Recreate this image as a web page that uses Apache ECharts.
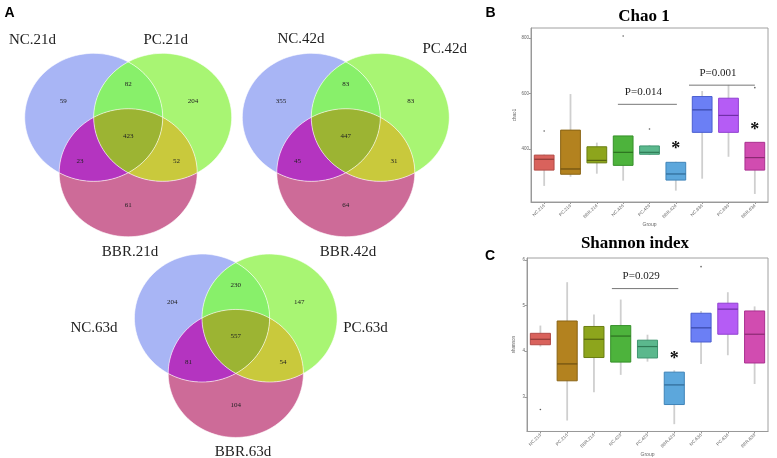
<!DOCTYPE html>
<html><head><meta charset="utf-8">
<script src="https://cdn.jsdelivr.net/npm/echarts@6/dist/echarts.min.js"></script>
<style>html,body{margin:0;padding:0;background:#fff}#c{width:777px;height:458px}</style>
</head><body><div id="c"></div><script>
// ---------------- DATA ----------------
const vennRegionNames = ['NC only','NC & PC','PC only','NC & PC & BBR','NC & BBR','PC & BBR','BBR only'];
const venn21Sets = ['NC.21d','PC.21d','BBR.21d'];
const venn21Counts = [59, 82, 204, 423, 23, 52, 61];
const venn42Sets = ['NC.42d','PC.42d','BBR.42d'];
const venn42Counts = [355, 83, 83, 447, 45, 31, 64];
const venn63Sets = ['NC.63d','PC.63d','BBR.63d'];
const venn63Counts = [204, 230, 147, 557, 81, 54, 104];

const groups = ['NC.21d','PC.21d','BBR.21d','NC.42d','PC.42d','BBR.42d','NC.63d','PC.63d','BBR.63d'];
// [min, Q1, median, Q3, max]
const chaoBoxes = [
  [267, 324, 363, 378, 380],
  [300, 309, 328, 468, 598],
  [311, 350, 359, 408, 423],
  [286, 341, 388, 447, 447],
  [378, 381, 388, 411, 414],
  [250, 288, 310, 352, 354],
  [293, 460, 541, 589, 609],
  [372, 460, 521, 583, 631],
  [238, 324, 369, 424, 424]
];
const chaoOutliers = [[0, 465], [3, 807], [4, 472], [8, 621]];
const chaoTicks = [400, 600, 800];
const chaoStars = [[5, 412], [8, 483]];
// [from position, to position (category units), level, label]
const chaoSig = [[2.8, 5.04, 561, 'P=0.014'], [5.5, 8.0, 630, 'P=0.001']];

const shannonBoxes = [
  [4.10, 4.14, 4.26, 4.39, 4.56],
  [2.48, 3.35, 3.72, 4.66, 5.51],
  [3.10, 3.86, 4.26, 4.54, 4.80],
  [3.48, 3.76, 4.33, 4.56, 5.13],
  [3.77, 3.85, 4.10, 4.24, 4.36],
  [2.40, 2.83, 3.26, 3.54, 3.58],
  [3.72, 4.20, 4.51, 4.83, 4.88],
  [3.91, 4.37, 4.92, 5.05, 5.29],
  [3.28, 3.74, 4.37, 4.88, 4.98]
];
const shannonOutliers = [[0, 2.72], [6, 5.85]];
const shannonTicks = [3, 4, 5, 6];
const shannonStars = [[5, 3.91]];
const shannonSig = [[2.67, 5.15, 5.37, 'P=0.029']];

// ---------------- STYLE / GEOMETRY ----------------
const regionColors = ['#a8b5f5','#88f06a','#a8f573','#9cb433','#b434c0','#c9c93c','#cd6b98'];
const boxFill = ['#d9625c','#b3821f','#8da51c','#4db33c','#5bb88d','#5ca7dc','#6b7ff5','#b55cf5','#d14cb0'];
const boxLine = ['#b24a46','#8a6414','#6a7e12','#36902a','#3f9670','#3f84b8','#4a5ed0','#9040d0','#aa3090'];
const boxMed  = ['#8e3a36','#6e5010','#566410','#2c7020','#2f7a55','#2f6a96','#3a48a8','#7030a8','#8a2a72'];

const S = Math.sqrt(3) / 6;
const CEN = [[-0.5, S], [0.5, S], [0, -2 * S]];
const REGION_ARCS = [
  [[0, 60, 240], [2, 180, 120], [1, 180, 120]],
  [[1, 120, 180], [2, 120, 60], [0, 0, 60]],
  [[1, -60, 120], [0, 60, 0], [2, 60, 0]],
  [[2, 120, 60], [0, 0, -60], [1, 240, 180]],
  [[0, 240, 300], [1, 240, 180], [2, 120, 180]],
  [[1, 240, 300], [2, 0, 60], [0, 0, -60]],
  [[2, 180, 360], [1, 300, 240], [0, 300, 240]]
];
const LABEL_POS = [[-0.94, 0.54], [0, 0.80], [0.94, 0.54], [0, 0], [-0.70, -0.40], [0.70, -0.40], [0, -1.08]];

function arcPts(ci, a0, a1, n) {
  const pts = [];
  for (let k = 0; k <= n; k++) {
    const a = (a0 + (a1 - a0) * k / n) * Math.PI / 180;
    pts.push([CEN[ci][0] + Math.cos(a), CEN[ci][1] + Math.sin(a)]);
  }
  return pts;
}

function vennRegionRender(params, api) {
  const r = api.value(0);
  const cnt = api.value(1);
  let pts = [];
  REGION_ARCS[r].forEach(a => { pts = pts.concat(arcPts(a[0], a[1], a[2], 40)); });
  const px = pts.map(p => api.coord(p));
  const lp = api.coord(LABEL_POS[r]);
  return {
    type: 'group',
    children: [
      { type: 'polygon', shape: { points: px }, style: { fill: regionColors[r], stroke: null } },
      { type: 'text', style: { text: String(cnt), x: lp[0], y: lp[1], font: '7px "Liberation Serif"', fill: '#222',
        align: 'center', verticalAlign: 'middle', textAlign: 'center', textVerticalAlign: 'middle' } }
    ]
  };
}
function vennCircleRender(params, api) {
  const ci = api.value(0);
  const px = arcPts(ci, 0, 360, 120).map(p => api.coord(p));
  return { type: 'polygon', shape: { points: px }, style: { fill: 'none', stroke: 'rgba(255,255,255,0.75)', lineWidth: 0.8 } };
}

function boxRender(params, api) {
  const i = api.value(0);
  const band = api.size([1, 0])[0];
  const w = band * 0.75;
  const x = api.coord([i, api.value(1)])[0];
  const y = k => api.coord([i, api.value(k)])[1];
  const yMin = y(1), yQ1 = y(2), yMed = y(3), yQ3 = y(4), yMax = y(5);
  return {
    type: 'group',
    children: [
      { type: 'line', shape: { x1: x, y1: yMin, x2: x, y2: yMax }, style: { stroke: '#cfcfcf', lineWidth: 1.8 } },
      { type: 'rect', shape: { x: x - w / 2, y: yQ3, width: w, height: yQ1 - yQ3 },
        style: { fill: boxFill[i], stroke: boxLine[i], lineWidth: 1 } },
      { type: 'line', shape: { x1: x - w / 2, y1: yMed, x2: x + w / 2, y2: yMed }, style: { stroke: boxMed[i], lineWidth: 1.2 } }
    ]
  };
}

function sigRender(params, api) {
  const band = api.size([1, 0])[0];
  const x0 = api.coord([0, api.value(2)])[0];
  const yv = api.coord([0, api.value(2)])[1];
  const xa = x0 + api.value(0) * band, xb = x0 + api.value(1) * band;
  return {
    type: 'group',
    children: [
      { type: 'line', shape: { x1: xa, y1: yv, x2: xb, y2: yv }, style: { stroke: '#777', lineWidth: 1 } },
      { type: 'text', style: { text: params.context.label || api.value(3), x: (xa + xb) / 2 - 4, y: yv - 12,
        font: '11px "Liberation Serif"', fill: '#222', align: 'center', verticalAlign: 'middle', textAlign: 'center', textVerticalAlign: 'middle' } }
    ]
  };
}

function starRender(params, api) {
  const p = api.coord([api.value(0), api.value(1)]);
  return { type: 'text', style: { text: '*', x: p[0], y: p[1] + 4, font: 'bold 18px "Liberation Serif"', fill: '#111',
    align: 'center', verticalAlign: 'middle', textAlign: 'center', textVerticalAlign: 'middle' } };
}

// ---------------- CHART ----------------
const chart = echarts.init(document.getElementById('c'), null, { renderer: 'canvas' });

const vennGrids = [
  { left: 17.8, top: 33.4, width: 220.8, height: 204.8 },
  { left: 235.4, top: 33.4, width: 220.8, height: 204.8 },
  { left: 127.65, top: 234.1, width: 216.3, height: 204.8 }
];
const vennCounts = [venn21Counts, venn42Counts, venn63Counts];

const grids = vennGrids.map(g => Object.assign({ show: false }, g));
grids.push({ left: 531, top: 28, width: 237, height: 174, show: true, borderColor: '#a0a0a0', borderWidth: 1, backgroundColor: 'transparent' });
grids.push({ left: 527, top: 258, width: 241, height: 174, show: true, borderColor: '#a0a0a0', borderWidth: 1, backgroundColor: 'transparent' });

const xAxes = [], yAxes = [];
for (let g = 0; g < 3; g++) {
  xAxes.push({ gridIndex: g, type: 'value', min: -1.6, max: 1.6, show: false });
  yAxes.push({ gridIndex: g, type: 'value', min: -1.6, max: 1.6, show: false });
}
function catAxis(g, nameGap) {
  return {
    gridIndex: g, type: 'category', data: groups,
    axisLine: { lineStyle: { color: '#999' } },
    axisTick: { show: true, length: 2, alignWithLabel: true, lineStyle: { color: '#999' } },
    axisLabel: { rotate: 45, fontSize: 4.5, color: '#666', margin: 3, interval: 0 },
    name: 'Group', nameLocation: 'middle', nameGap: nameGap, nameTextStyle: { fontSize: 5, color: '#666' }
  };
}
function valAxis(g, min, max, ticks, name) {
  return {
    gridIndex: g, type: 'value', min: min, max: max,
    splitLine: { show: false },
    axisLine: { show: true, lineStyle: { color: '#999' } },
    axisTick: { show: true, length: 2, customValues: ticks, lineStyle: { color: '#999' } },
    axisLabel: { customValues: ticks, fontSize: 4.5, color: '#666', margin: 2 },
    name: name, nameLocation: 'middle', nameRotate: 90, nameGap: 11, nameTextStyle: { fontSize: 4.5, color: '#666' }
  };
}
xAxes.push(catAxis(3, 17)); yAxes.push(valAxis(3, 209, 836, chaoTicks, 'chao1'));
xAxes.push(catAxis(4, 17)); yAxes.push(valAxis(4, 2.24, 6.04, shannonTicks, 'shannon'));

const series = [];
for (let g = 0; g < 3; g++) {
  series.push({
    type: 'custom', xAxisIndex: g, yAxisIndex: g, renderItem: vennRegionRender,
    data: vennCounts[g].map((v, i) => ({ name: vennRegionNames[i], value: [i, v] })),
    encode: { x: -1, y: -1 }, silent: true
  });
  series.push({
    type: 'custom', xAxisIndex: g, yAxisIndex: g, renderItem: vennCircleRender,
    data: [[0], [1], [2]], encode: { x: -1, y: -1 }, silent: true, z: 3
  });
}
function boxSeries(ax, boxes, outliers, stars, sig) {
  series.push({
    type: 'custom', xAxisIndex: ax, yAxisIndex: ax, renderItem: boxRender,
    data: boxes.map((b, i) => [i].concat(b)), encode: { x: 0, y: [1, 2, 3, 4, 5] }, silent: true
  });
  series.push({
    type: 'scatter', xAxisIndex: ax, yAxisIndex: ax, data: outliers, symbolSize: 1.6,
    itemStyle: { color: '#333' }, silent: true
  });
  series.push({
    type: 'custom', xAxisIndex: ax, yAxisIndex: ax, renderItem: starRender,
    data: stars, encode: { x: 0, y: 1 }, silent: true
  });
  series.push({
    type: 'custom', xAxisIndex: ax, yAxisIndex: ax, renderItem: sigRender,
    data: sig, encode: { x: -1, y: 2 }, silent: true
  });
}
boxSeries(3, chaoBoxes, chaoOutliers, chaoStars, chaoSig);
boxSeries(4, shannonBoxes, shannonOutliers, shannonStars, shannonSig);

function txt(text, x, y, font, color) {
  return { type: 'text', x: x, y: y, silent: true,
    style: { text: text, font: font, fill: color || '#222', align: 'center', verticalAlign: 'middle', textAlign: 'center', textVerticalAlign: 'middle' } };
}
const setFont = '15px "Liberation Serif"';
const graphics = [
  txt('A', 9.5, 13.5, 'bold 14px "Liberation Sans"', '#000'),
  txt('B', 490.5, 13, 'bold 14px "Liberation Sans"', '#000'),
  txt('C', 490, 256, 'bold 14px "Liberation Sans"', '#000'),
  txt(venn21Sets[0], 32.5, 40, setFont), txt(venn21Sets[1], 165.8, 40, setFont), txt(venn21Sets[2], 130, 252, setFont),
  txt(venn42Sets[0], 301, 39.5, setFont), txt(venn42Sets[1], 444.7, 49.5, setFont), txt(venn42Sets[2], 348, 252.5, setFont),
  txt(venn63Sets[0], 94, 328.5, setFont), txt(venn63Sets[1], 365.5, 328, setFont), txt(venn63Sets[2], 243, 452.5, setFont),
  txt('Chao 1', 644, 16.5, 'bold 17px "Liberation Serif"', '#000'),
  txt('Shannon index', 635, 244, 'bold 17px "Liberation Serif"', '#000')
];

chart.setOption({
  animation: false,
  backgroundColor: '#fff',
  grid: grids, xAxis: xAxes, yAxis: yAxes, series: series,
  graphic: { elements: graphics }
});
</script></body></html>
